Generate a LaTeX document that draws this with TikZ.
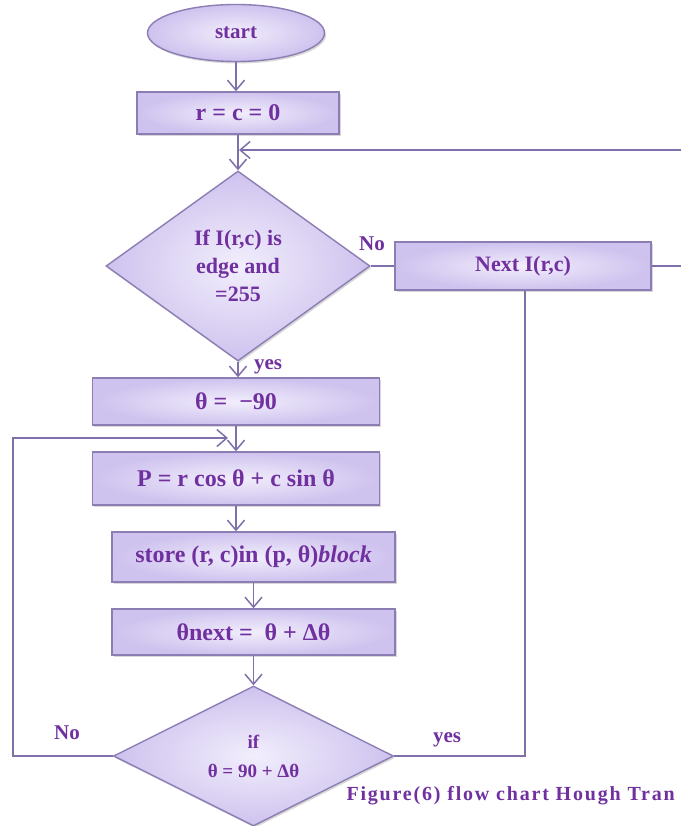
\documentclass[tikz,border=0pt]{standalone}
\usepackage{fontspec}
\setmainfont{Liberation Serif}
\usetikzlibrary{shapes.geometric,arrows.meta,shadows}
\definecolor{ptext}{RGB}{112,48,160}
\definecolor{pline}{RGB}{128,112,170}
\definecolor{pborder}{RGB}{140,126,180}
\definecolor{pfill}{RGB}{206,194,238}
\definecolor{pfillc}{RGB}{242,238,252}
\begin{document}
\begin{tikzpicture}[x=1pt,y=-1pt,
  base/.style={draw=pborder, line width=1.4pt, inner color=pfillc, outer color=pfill,
    text=ptext, font=\fontsize{22}{28}\selectfont\bfseries,
    drop shadow={shadow xshift=1.5pt, shadow yshift=-2pt, opacity=0.3, fill=black!50}},
  box/.style={base, rectangle, inner sep=0pt},
  dia/.style={base, diamond, inner sep=0pt, align=center},
  arr/.style={draw=pline, line width=1.5pt, -{Straight Barb[length=10pt,width=17pt]}},
  ln/.style={draw=pline, line width=1.5pt},
  lbl/.style={text=ptext, font=\fontsize{21}{24}\selectfont\bfseries},
  mth/.style={font=\fontsize{24}{28}\selectfont\bfseries},
  capt/.style={text=ptext, font=\fontsize{20}{22}\selectfont\bfseries\addfontfeature{LetterSpace=9}}
]
\fill[white] (0,0) rectangle (681,826);
\useasboundingbox (0,0) rectangle (681,826);
\clip (0,0) rectangle (681,826);

\node[base, ellipse, inner sep=0pt, minimum width=177pt, minimum height=57pt,
      font=\fontsize{21}{24}\selectfont\bfseries] (start) at (236,33) {start};
\node[box, mth, minimum width=202pt, minimum height=42pt] (rc) at (238,113) {r = c = 0};
\node[dia, aspect=1.4, minimum width=264pt, minimum height=190pt] (d1) at (238,266)
  {If I(r,c) is\\edge and\\=255};
\node[box, minimum width=256pt, minimum height=48pt] (nI) at (523,266) {Next I(r,c)};
\node[box, mth, minimum width=287pt, minimum height=47pt] (th) at (236,401.5) {θ =\ \ −90};
\node[box, mth, minimum width=287pt, minimum height=53pt] (P) at (236,478.5) {P = r cos θ + c sin θ};
\node[box, mth, minimum width=283pt, minimum height=50pt] (st) at (253.5,557)
  {store (r, c)in (p, θ)\textit{block}};
\node[box, mth, minimum width=283pt, minimum height=46pt] (nt) at (253.5,632) {θnext =\ \ θ + Δθ};
\node[dia, aspect=2, minimum width=280pt, minimum height=140pt,
      font=\fontsize{19}{29}\selectfont\bfseries] (d2) at (253.5,756) {if\\θ = 90 + Δθ};

\coordinate (eT) at (681,150);
\coordinate (eR) at (681,266);
\coordinate (c1) at (525,756);
\coordinate (c2) at (13,756);
\coordinate (c3) at (13,438);
\coordinate (j2) at (228,438);

\draw[arr] (start.south) -- (rc.north -| start.south);
\draw[arr] (rc.south) -- (d1.north);
\draw[arr] (eT) -- ([xshift=1pt]d1.north |- eT);
\draw[ln] (d1.east) -- (nI.west);
\draw[ln] (nI.east) -- (eR);
\draw[ln] (nI.south -| c1) -- (c1) -- (d2.east);
\draw[arr] (d1.south) -- (th.north -| d1.south);
\draw[arr] (th.south) -- (P.north);
\draw[arr] (d2.west) -- (c2) -- (c3) -- (j2);
\draw[arr] (P.south) -- (st.north -| P.south);
\draw[arr] (st.south) -- (nt.north);
\draw[arr] (nt.south) -- (d2.north);

\node[lbl] (lNo1) at (372,244) {No};
\node[lbl] (lYes1) at (268,367) {yes};
\node[lbl] (lYes2) at (447,740) {yes};
\node[lbl] (lNo2) at (67,733) {No};
\node[capt, anchor=west] (cap) at (343,796) {Figure(6) flow chart Hough Tran};
\end{tikzpicture}
\end{document}
